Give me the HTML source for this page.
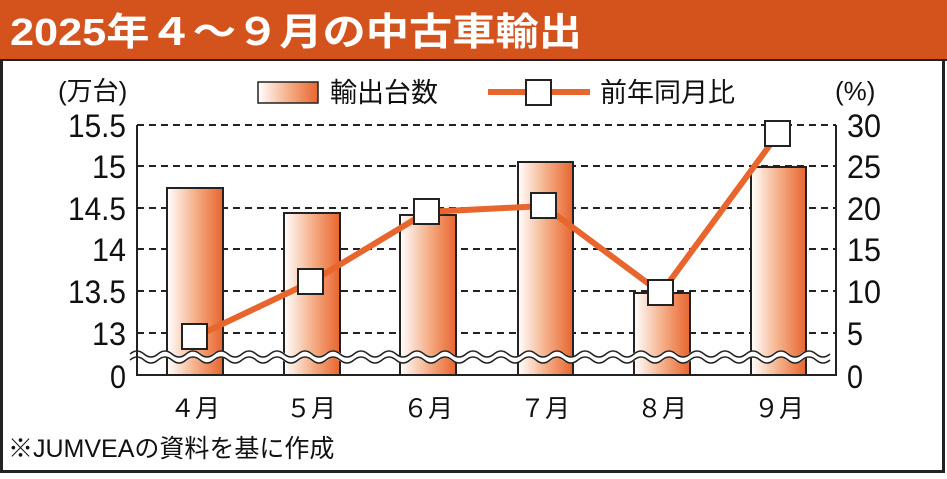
<!DOCTYPE html>
<html><head><meta charset="utf-8"><style>
body{margin:0;width:947px;height:474px;overflow:hidden;background:#fff;font-family:"Liberation Sans","Noto Sans CJK JP",sans-serif}
</style></head><body>
<svg width="947" height="474" xmlns="http://www.w3.org/2000/svg" font-family="Liberation Sans, Noto Sans CJK JP, sans-serif">
<defs><linearGradient id="g" x1="0" x2="1"><stop offset="0" stop-color="#fff"/><stop offset="0.5" stop-color="#f5b08a"/><stop offset="1" stop-color="#e8652e"/></linearGradient></defs>
<rect x="1.5" y="1.5" width="942" height="470" fill="#fff" stroke="#222" stroke-width="3"/>
<rect x="0" y="0" width="947" height="60" fill="#d4531c"/>
<line x1="0" y1="60" x2="947" y2="60" stroke="#222" stroke-width="2"/>
<text x="10" y="45" font-size="38" font-weight="bold" fill="#fff" textLength="572" lengthAdjust="spacingAndGlyphs">2025年４～９月の中古車輸出</text>
<g stroke="#222" stroke-width="2" stroke-dasharray="7,5">
<line x1="137" y1="125" x2="836" y2="125"/><line x1="137" y1="166" x2="836" y2="166"/><line x1="137" y1="208" x2="836" y2="208"/><line x1="137" y1="249" x2="836" y2="249"/><line x1="137" y1="291" x2="836" y2="291"/><line x1="137" y1="333" x2="836" y2="333"/>
</g>
<g fill="url(#g)" stroke="#222" stroke-width="2">
<rect x="167" y="188" width="56" height="187"/><rect x="284" y="213" width="56" height="162"/><rect x="400" y="215" width="56" height="160"/><rect x="518" y="162" width="55" height="213"/><rect x="634" y="293" width="56" height="82"/><rect x="751" y="167" width="55" height="208"/>
</g>
<path d="M130 357 q7 -6 14 0 t14 0 t14 0 t14 0 t14 0 t14 0 t14 0 t14 0 t14 0 t14 0 t14 0 t14 0 t14 0 t14 0 t14 0 t14 0 t14 0 t14 0 t14 0 t14 0 t14 0 t14 0 t14 0 t14 0 t14 0 t14 0 t14 0 t14 0 t14 0 t14 0 t14 0 t14 0 t14 0 t14 0 t14 0 t14 0 t14 0 t14 0 t14 0 t14 0 t14 0 t14 0 t14 0 t14 0 t14 0 t14 0 t14 0 t14 0 t14 0 t14 0" fill="none" stroke="#fff" stroke-width="7"/>
<path d="M130 354 q7 -6 14 0 t14 0 t14 0 t14 0 t14 0 t14 0 t14 0 t14 0 t14 0 t14 0 t14 0 t14 0 t14 0 t14 0 t14 0 t14 0 t14 0 t14 0 t14 0 t14 0 t14 0 t14 0 t14 0 t14 0 t14 0 t14 0 t14 0 t14 0 t14 0 t14 0 t14 0 t14 0 t14 0 t14 0 t14 0 t14 0 t14 0 t14 0 t14 0 t14 0 t14 0 t14 0 t14 0 t14 0 t14 0 t14 0 t14 0 t14 0 t14 0 t14 0" fill="none" stroke="#222" stroke-width="1.5"/>
<path d="M130 360 q7 -6 14 0 t14 0 t14 0 t14 0 t14 0 t14 0 t14 0 t14 0 t14 0 t14 0 t14 0 t14 0 t14 0 t14 0 t14 0 t14 0 t14 0 t14 0 t14 0 t14 0 t14 0 t14 0 t14 0 t14 0 t14 0 t14 0 t14 0 t14 0 t14 0 t14 0 t14 0 t14 0 t14 0 t14 0 t14 0 t14 0 t14 0 t14 0 t14 0 t14 0 t14 0 t14 0 t14 0 t14 0 t14 0 t14 0 t14 0 t14 0 t14 0 t14 0" fill="none" stroke="#222" stroke-width="1.5"/>
<rect x="4" y="340" width="124" height="30" fill="#fff"/>
<rect x="838" y="340" width="100" height="30" fill="#fff"/>
<path d="M137 125 V375 H836 V125" fill="none" stroke="#222" stroke-width="2"/>
<polyline points="195,337 311,282 427,212 544,206 661,293 778,134" fill="none" stroke="#e8652e" stroke-width="6"/>
<g fill="#fff" stroke="#222" stroke-width="2">
<rect x="182" y="324" width="25" height="25"/><rect x="298" y="269" width="25" height="25"/><rect x="414" y="199" width="25" height="25"/><rect x="531" y="193" width="25" height="25"/><rect x="648" y="280" width="25" height="25"/><rect x="765" y="121" width="25" height="25"/>
</g>
<g font-size="32" fill="#111" text-anchor="end">
<text x="126" y="137" textLength="58" lengthAdjust="spacingAndGlyphs">15.5</text><text x="126" y="178" textLength="34" lengthAdjust="spacingAndGlyphs">15</text><text x="126" y="220" textLength="58" lengthAdjust="spacingAndGlyphs">14.5</text><text x="126" y="261" textLength="34" lengthAdjust="spacingAndGlyphs">14</text><text x="126" y="303" textLength="58" lengthAdjust="spacingAndGlyphs">13.5</text><text x="126" y="345" textLength="34" lengthAdjust="spacingAndGlyphs">13</text><text x="126" y="388" textLength="16" lengthAdjust="spacingAndGlyphs">0</text>
</g>
<g font-size="32" fill="#111" text-anchor="start">
<text x="847" y="137" textLength="34" lengthAdjust="spacingAndGlyphs">30</text><text x="847" y="178" textLength="34" lengthAdjust="spacingAndGlyphs">25</text><text x="847" y="220" textLength="34" lengthAdjust="spacingAndGlyphs">20</text><text x="847" y="261" textLength="34" lengthAdjust="spacingAndGlyphs">15</text><text x="847" y="303" textLength="34" lengthAdjust="spacingAndGlyphs">10</text><text x="847" y="345" textLength="16" lengthAdjust="spacingAndGlyphs">5</text><text x="847" y="388" textLength="16" lengthAdjust="spacingAndGlyphs">0</text>
</g>
<g font-size="25" fill="#111" text-anchor="middle">
<text x="195" y="417">４月</text><text x="311" y="417">５月</text><text x="428" y="417">６月</text><text x="545" y="417">７月</text><text x="662" y="417">８月</text><text x="779" y="417">９月</text>
</g>
<text x="58" y="100" font-size="26" fill="#111">(万台)</text>
<text x="835" y="100" font-size="26" fill="#111">(%)</text>
<rect x="258" y="82" width="60" height="21" fill="url(#g)" stroke="#222" stroke-width="1.5"/>
<text x="330" y="102" font-size="27" fill="#111">輸出台数</text>
<line x1="488" y1="92" x2="590" y2="92" stroke="#e8652e" stroke-width="6"/>
<rect x="526" y="80" width="25" height="25" fill="#fff" stroke="#222" stroke-width="2"/>
<text x="600" y="102" font-size="27" fill="#111">前年同月比</text>
<text x="8" y="457" font-size="25" fill="#111">※JUMVEAの資料を基に作成</text>
</svg>
</body></html>
